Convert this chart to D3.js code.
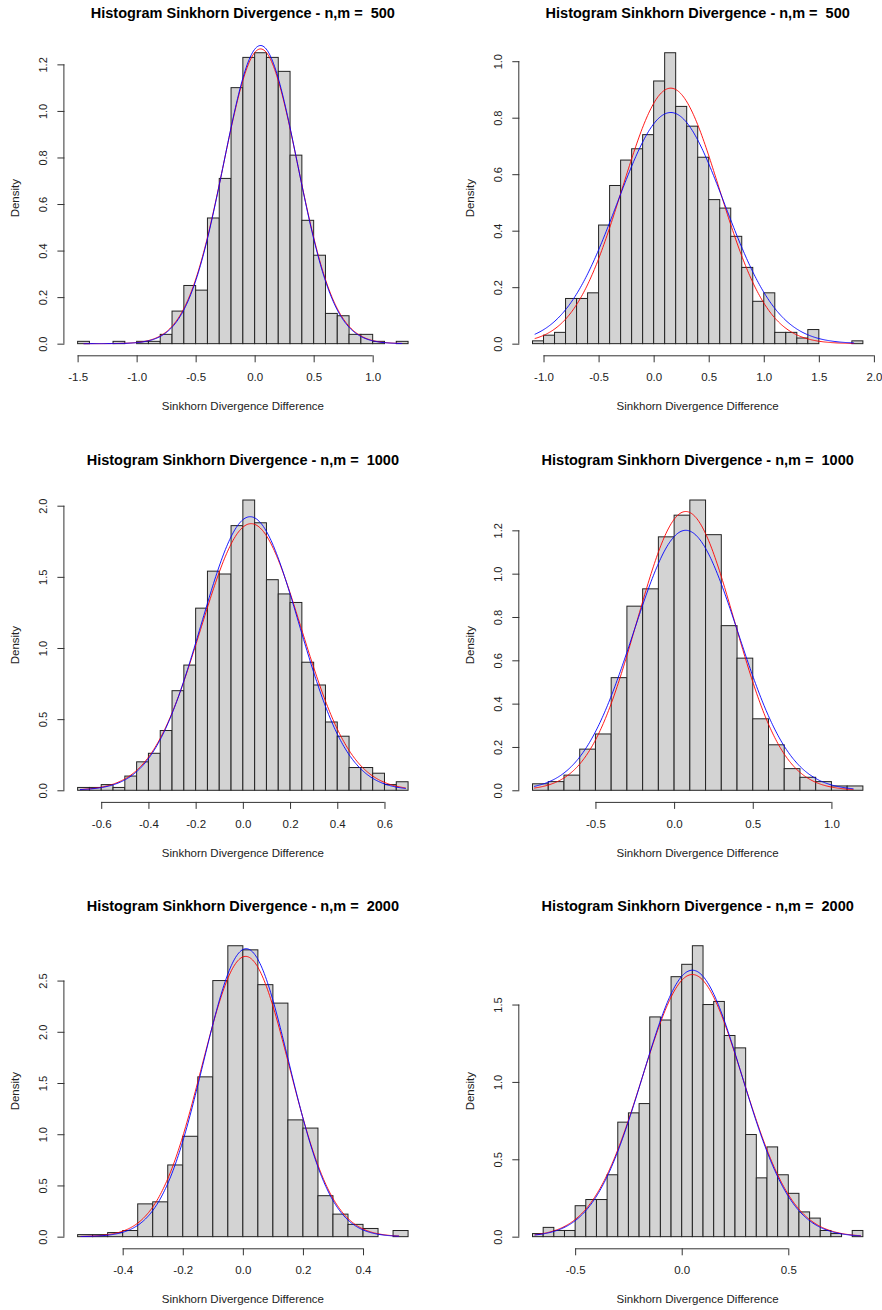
<!DOCTYPE html>
<html>
<head>
<meta charset="utf-8">
<script src="https://cdn.jsdelivr.net/npm/d3@7/dist/d3.min.js"></script>
<style>
  body { margin: 0; background: #fff; }
  svg { display: block; font-family: "Liberation Sans", Arial, sans-serif; }
  text.title { white-space: pre; }
</style>
</head>
<body>
<svg id="chart" width="882" height="1310"></svg>
<script>
// ---------- DATA ----------
const titles = [
  "Histogram Sinkhorn Divergence - n,m =  500",
  "Histogram Sinkhorn Divergence - n,m =  500",
  "Histogram Sinkhorn Divergence - n,m =  1000",
  "Histogram Sinkhorn Divergence - n,m =  1000",
  "Histogram Sinkhorn Divergence - n,m =  2000",
  "Histogram Sinkhorn Divergence - n,m =  2000"
];
const xLabel = "Sinkhorn Divergence Difference";
const yLabel = "Density";

// first break and bin width of each histogram
const breakStart = [-1.5, -1.1, -0.70, -0.9, -0.55, -0.70];
const binWidth   = [0.1, 0.1, 0.05, 0.1, 0.05, 0.05];

// densities of each bin
const density1 = [0.01,0,0,0.01,0,0.01,0.01,0.04,0.14,0.25,0.23,0.54,0.71,1.10,1.23,1.25,1.23,1.17,0.81,0.53,0.38,0.13,0.12,0.04,0.04,0.01,0,0.01];
const density2 = [0.01,0.03,0.04,0.16,0.16,0.18,0.42,0.56,0.65,0.69,0.74,0.93,1.03,0.84,0.77,0.66,0.51,0.48,0.38,0.27,0.15,0.18,0.04,0.04,0.02,0.05,0,0,0,0.01];
const density3 = [0.02,0.02,0.04,0.02,0.10,0.20,0.26,0.42,0.70,0.88,1.28,1.54,1.52,1.86,2.04,1.88,1.48,1.38,1.32,0.90,0.74,0.48,0.38,0.16,0.16,0.12,0.04,0.06];
const density4 = [0.03,0.04,0.07,0.19,0.26,0.52,0.85,0.93,1.17,1.27,1.34,1.18,0.76,0.61,0.33,0.21,0.10,0.06,0.04,0.02,0.02];
const density5 = [0.02,0.02,0.04,0.06,0.32,0.34,0.70,0.98,1.56,2.50,2.84,2.80,2.46,2.28,1.14,1.06,0.40,0.22,0.12,0.08,0,0.06];
const density6 = [0.02,0.06,0.04,0.04,0.20,0.24,0.24,0.40,0.74,0.80,0.86,1.42,1.40,1.68,1.76,1.88,1.50,1.52,1.30,1.22,0.66,0.38,0.58,0.40,0.28,0.16,0.12,0.04,0.02,0,0.04];
const densities = [density1, density2, density3, density4, density5, density6];

// tick values and labels
const xTicks = [
  [-1.5,-1.0,-0.5,0.0,0.5,1.0],
  [-1.0,-0.5,0.0,0.5,1.0,1.5,2.0],
  [-0.6,-0.4,-0.2,0.0,0.2,0.4,0.6],
  [-0.5,0.0,0.5,1.0],
  [-0.4,-0.2,0.0,0.2,0.4],
  [-0.5,0.0,0.5]
];
const xTickLabels = [
  ["-1.5","-1.0","-0.5","0.0","0.5","1.0"],
  ["-1.0","-0.5","0.0","0.5","1.0","1.5","2.0"],
  ["-0.6","-0.4","-0.2","0.0","0.2","0.4","0.6"],
  ["-0.5","0.0","0.5","1.0"],
  ["-0.4","-0.2","0.0","0.2","0.4"],
  ["-0.5","0.0","0.5"]
];
const yTicks = [
  [0,0.2,0.4,0.6,0.8,1.0,1.2],
  [0,0.2,0.4,0.6,0.8,1.0],
  [0,0.5,1.0,1.5,2.0],
  [0,0.2,0.4,0.6,0.8,1.0,1.2],
  [0,0.5,1.0,1.5,2.0,2.5],
  [0,0.5,1.0,1.5]
];
const yTickLabels = [
  ["0.0","0.2","0.4","0.6","0.8","1.0","1.2"],
  ["0.0","0.2","0.4","0.6","0.8","1.0"],
  ["0.0","0.5","1.0","1.5","2.0"],
  ["0.0","0.2","0.4","0.6","0.8","1.0","1.2"],
  ["0.0","0.5","1.0","1.5","2.0","2.5"],
  ["0.0","0.5","1.0","1.5"]
];

// fitted normal curves (mean, sd) and the x-extent they are drawn over
const redMean  = [0.05, 0.155, 0.035, 0.074, 0.009, 0.05];
const redSd    = [0.315, 0.441, 0.2129, 0.310, 0.1458, 0.2355];
const blueMean = [0.05, 0.155, 0.031, 0.074, 0.011, 0.05];
const blueSd   = [0.3114, 0.4875, 0.2075, 0.3324, 0.1419, 0.2317];
const curveFrom = [-1.45, -1.08, -0.69, -0.89, -0.54, -0.69];
const curveTo   = [1.25, 1.82, 0.69, 1.14, 0.52, 0.84];

// ---------- LAYOUT ----------
const colX = [[64.4, 421.3], [519.3, 876.1]];
const rowY = [[41.1, 355.3], [488.4, 801.9], [934.1, 1248.3]];

const svg = d3.select("#chart");
svg.append("rect").attr("width", 882).attr("height", 1310).attr("fill", "#fff");

function dnorm(x, m, s) {
  return Math.exp(-0.5 * ((x - m) / s) ** 2) / (s * Math.sqrt(2 * Math.PI));
}

for (let p = 0; p < 6; p++) {
  const col = p % 2, row = Math.floor(p / 2);
  const [L, R] = colX[col];
  const [T, B] = rowY[row];
  const dens = densities[p];
  const b0 = breakStart[p], w = binWidth[p];
  const b1 = b0 + w * dens.length;
  const xr = b1 - b0;
  const ymax = d3.max(dens);

  const x = d3.scaleLinear().domain([b0 - 0.04 * xr, b1 + 0.04 * xr]).range([L, R]);
  const y = d3.scaleLinear().domain([-0.04 * ymax, 1.04 * ymax]).range([B, T]);

  const g = svg.append("g");

  const clipId = "clip" + p;
  svg.append("clipPath").attr("id", clipId)
    .append("rect").attr("x", L).attr("y", T).attr("width", R - L).attr("height", B - T);

  const bins = dens.map((d, i) => ({ x0: b0 + i * w, x1: b0 + (i + 1) * w, d }));

  g.selectAll("rect.bar").data(bins).enter().append("rect")
    .attr("class", "bar")
    .attr("x", d => x(d.x0))
    .attr("width", d => x(d.x1) - x(d.x0))
    .attr("y", d => y(d.d))
    .attr("height", d => y(0) - y(d.d))
    .attr("fill", "#d3d3d3")
    .attr("stroke", "#222")
    .attr("stroke-width", 1);

  // curves
  const line = d3.line().x(d => x(d[0])).y(d => y(d[1]));
  const cx = d3.range(0, 301).map(i => curveFrom[p] + (curveTo[p] - curveFrom[p]) * i / 300);
  const cg = g.append("g").attr("clip-path", `url(#${clipId})`);
  cg.append("path")
    .attr("d", line(cx.map(v => [v, dnorm(v, redMean[p], redSd[p])])))
    .attr("fill", "none").attr("stroke", "#ff0000").attr("stroke-width", 0.9);
  cg.append("path")
    .attr("d", line(cx.map(v => [v, dnorm(v, blueMean[p], blueSd[p])])))
    .attr("fill", "none").attr("stroke", "#0000ff").attr("stroke-width", 0.9);

  // x axis
  const xa = g.append("g").attr("transform", `translate(0,${B})`)
    .call(d3.axisBottom(x).tickValues(xTicks[p]).tickSize(7).tickSizeOuter(0)
      .tickFormat((d, i) => xTickLabels[p][i]));
  xa.select(".domain").remove();
  xa.append("line")
    .attr("x1", x(xTicks[p][0])).attr("x2", x(xTicks[p][xTicks[p].length - 1]))
    .attr("y1", 0.5).attr("y2", 0.5).attr("stroke", "#333");
  xa.selectAll(".tick line").attr("stroke", "#333");
  xa.selectAll(".tick text").attr("y", 22).attr("dy", "0.35em")
    .attr("font-size", 11.5).attr("font-family", "Liberation Sans, Arial, sans-serif").attr("fill", "#222");

  // y axis
  const ya = g.append("g").attr("transform", `translate(${L},0)`)
    .call(d3.axisLeft(y).tickValues(yTicks[p]).tickSize(7).tickSizeOuter(0)
      .tickFormat((d, i) => yTickLabels[p][i]));
  ya.select(".domain").remove();
  ya.append("line")
    .attr("x1", -0.5).attr("x2", -0.5)
    .attr("y1", y(yTicks[p][0])).attr("y2", y(yTicks[p][yTicks[p].length - 1]))
    .attr("stroke", "#333");
  ya.selectAll(".tick line").attr("stroke", "#333");
  ya.selectAll(".tick text")
    .attr("x", null).attr("dy", null)
    .attr("transform", "translate(-21,0) rotate(-90)")
    .attr("text-anchor", "middle").attr("dy", "0.35em")
    .attr("font-size", 11).attr("font-family", "Liberation Sans, Arial, sans-serif").attr("fill", "#222");

  // labels
  g.append("text").attr("x", (L + R) / 2).attr("y", B + 51).attr("dy", "0.35em")
    .attr("text-anchor", "middle").attr("font-size", 11.5).attr("fill", "#222").text(xLabel);
  g.append("text").attr("transform", `translate(${L - 49.5},${(T + B) / 2}) rotate(-90)`)
    .attr("dy", "0.35em").attr("text-anchor", "middle").attr("font-size", 11.5).attr("fill", "#222").text(yLabel);
  g.append("text").attr("class", "title").attr("xml:space", "preserve")
    .attr("x", (L + R) / 2).attr("y", T - 28).attr("dy", "0.35em")
    .attr("text-anchor", "middle").attr("font-size", 14.5).attr("font-weight", "bold").attr("fill", "#000").text(titles[p]);
}
</script>
</body>
</html>
